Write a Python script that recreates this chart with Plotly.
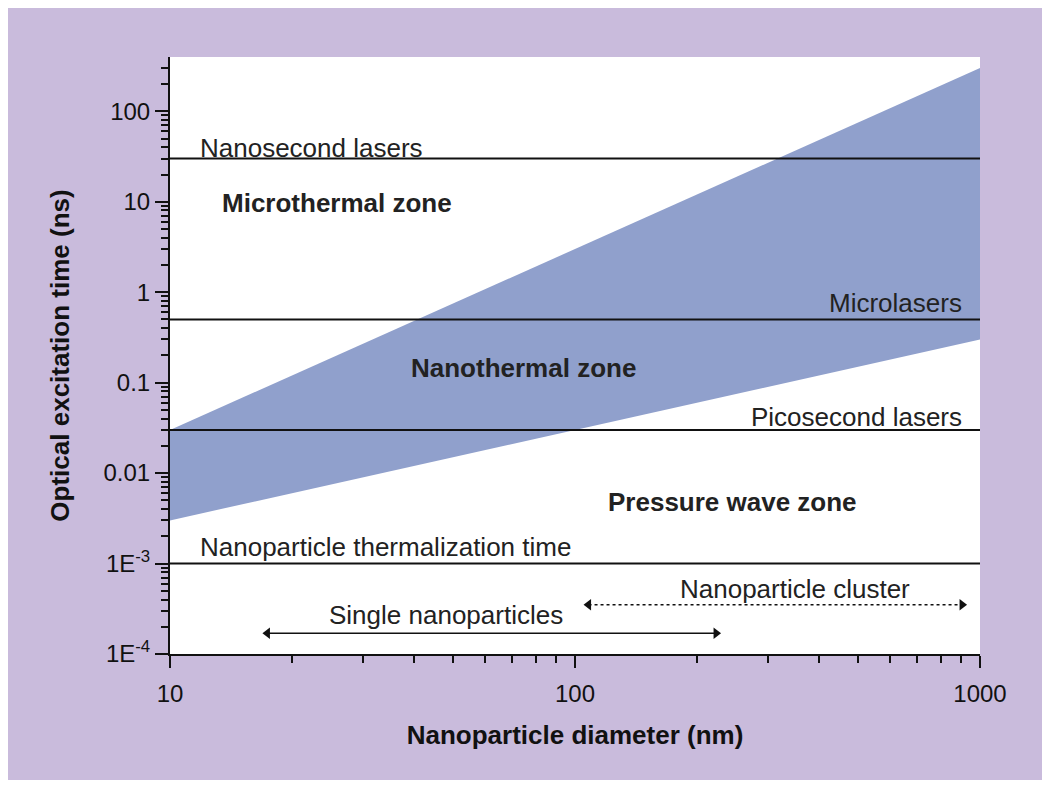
import math
import plotly.graph_objects as go

# band of nanothermal zone (diameter in nm, time in ns)
band_x = [10, 1000]
band_upper = [0.03, 300]
band_lower = [0.003, 0.3]

# laser / time reference lines
line_names = ["Nanosecond lasers", "Microlasers", "Picosecond lasers",
              "Nanoparticle thermalization time"]
line_values = [30, 0.5, 0.03, 0.001]

# size range arrows
single_x = [17.4, 223]
single_y = [1.7e-4, 1.7e-4]
cluster_x = [108, 903]
cluster_y = [3.5e-4, 3.5e-4]

ytick_vals = [1e-4, 1e-3, 0.01, 0.1, 1, 10, 100]
ytick_text = ["1E<sup>-4</sup>", "1E<sup>-3</sup>", "0.01", "0.1", "1", "10", "100"]
xtick_vals = [10, 100, 1000]
xtick_text = ["10", "100", "1000"]

FONT = "Liberation Sans, Arial, Helvetica, sans-serif"
BAND = "#90A0CC"
PANEL = "#C9BBDC"

fig = go.Figure()

# band polygon
fig.add_trace(go.Scatter(
    x=band_x + band_x[::-1], y=band_upper + band_lower[::-1],
    mode="lines", fill="toself", fillcolor=BAND,
    line=dict(width=0), hoverinfo="skip", showlegend=False))

for name, v in zip(line_names, line_values):
    fig.add_trace(go.Scatter(x=band_x, y=[v, v], mode="lines",
                             line=dict(color="#111", width=2),
                             name=name, showlegend=False))

# arrows
fig.add_trace(go.Scatter(x=single_x, y=single_y, mode="lines+markers",
                         line=dict(color="#111", width=1.5),
                         marker=dict(symbol=["triangle-left", "triangle-right"], size=10, color="#111"),
                         showlegend=False))
fig.add_trace(go.Scatter(x=cluster_x, y=cluster_y, mode="lines+markers",
                         line=dict(color="#111", width=1.5, dash="dot"),
                         marker=dict(symbol=["triangle-left", "triangle-right"], size=10, color="#111"),
                         showlegend=False))


# label placement helpers (log10 coords, as annotations on log axes need)
def ly(pix):
    return -4 + (654 - pix) / 90.55


def lx(pix):
    return 1 + (pix - 170) / 405


def label(text, x, y, xanchor="left", bold=False):
    if bold:
        text = "<b>" + text + "</b>"
    fig.add_annotation(text=text, x=lx(x), y=ly(y), xref="x", yref="y", showarrow=False,
                       xanchor=xanchor, yanchor="middle",
                       font=dict(family=FONT, size=26, color="#222"))


label("Nanosecond lasers", 198, 147)
label("Microthermal zone", 220, 203, bold=True)
label("Microlasers", 964, 303, xanchor="right")
label("Nanothermal zone", 523, 368, xanchor="center", bold=True)
label("Picosecond lasers", 964, 417, xanchor="right")
label("Pressure wave zone", 732, 502, xanchor="center", bold=True)
label("Nanoparticle thermalization time", 198, 547)
label("Nanoparticle cluster", 795, 589, xanchor="center")
label("Single nanoparticles", 446, 615, xanchor="center")

fig.update_xaxes(type="log", range=[1, 3], showgrid=False, zeroline=False,
                 showline=True, linecolor="#111", linewidth=2,
                 ticks="outside", ticklen=12, tickwidth=2, tickcolor="#111",
                 tickvals=xtick_vals, ticktext=xtick_text, ticklabelstandoff=5,
                 tickfont=dict(family=FONT, size=24, color="#111"),
                 minor=dict(ticks="outside", ticklen=7, tickwidth=1.5, tickcolor="#111", dtick="D1"),
                 title=dict(text="<b>Nanoparticle diameter (nm)</b>", standoff=20,
                            font=dict(family=FONT, size=26, color="#111")))
fig.update_yaxes(type="log", range=[-4, 2.6], showgrid=False, zeroline=False,
                 showline=True, linecolor="#111", linewidth=2,
                 ticks="outside", ticklen=13, tickwidth=2, tickcolor="#111",
                 tickvals=ytick_vals, ticktext=ytick_text,
                 tickfont=dict(family=FONT, size=24, color="#111"),
                 minor=dict(ticks="outside", ticklen=7, tickwidth=1.5, tickcolor="#111", dtick="D1"),
                 title=dict(text="<b>Optical excitation time (ns)</b>", standoff=26,
                            font=dict(family=FONT, size=26, color="#111")))

# page has an 8px body margin, so the figure is 16px smaller than the window
fig.update_layout(width=1034, height=772, paper_bgcolor=PANEL, plot_bgcolor="white",
                  margin=dict(l=162, r=62, t=49, b=126), showlegend=False)

fig.write_html("out.html")
